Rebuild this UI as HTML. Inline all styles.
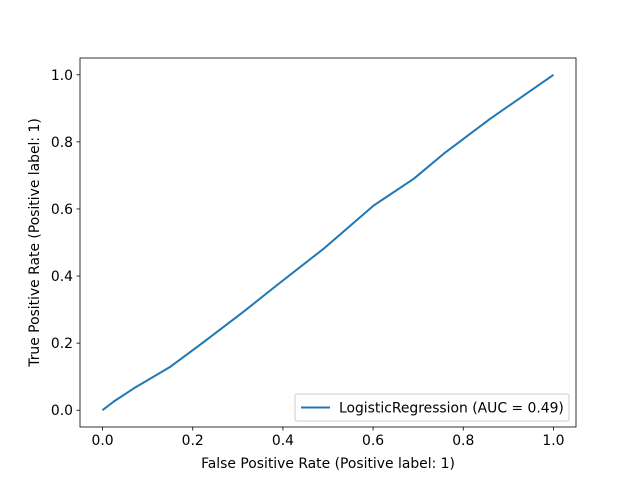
<!DOCTYPE html>
<html><head><meta charset="utf-8"><style>body{margin:0;background:#fff}svg{display:block;font-family:"DejaVu Sans","Liberation Sans",sans-serif}</style></head>
<body>
<svg id="chart" width="640" height="480">
<rect x="0" y="0" width="640" height="480" fill="#fff"/>
<g id="plot"></g>
</svg>
<script>
const fprValues=[0,0.025,0.069,0.151,0.225,0.313,0.387,0.491,0.602,0.69,0.757,0.86,1];
const tprValues=[0,0.026,0.065,0.13,0.204,0.294,0.373,0.482,0.611,0.69,0.765,0.869,1];
const xTicks=[0,0.2,0.4,0.6,0.8,1.0];
const yTicks=[0,0.2,0.4,0.6,0.8,1.0];
const legendLabel="LogisticRegression (AUC = 0.49)";
const L=80,R=576,T=58,B=427;
const x=v=>L+(v+0.05)/1.1*(R-L);
const y=v=>B-(v+0.05)/1.1*(B-T);
const NS="http://www.w3.org/2000/svg";
const g=document.getElementById('plot');
function mk(t,a,txt){const e=document.createElementNS(NS,t);for(const k in a)e.setAttribute(k,a[k]);if(txt!==undefined)e.textContent=txt;g.appendChild(e);return e;}
let d=fprValues.map((v,i)=>(i?'L':'M')+x(v).toFixed(1)+' '+y(tprValues[i]).toFixed(1)).join(' ');
const line=mk('path',{d:d,fill:'none',stroke:'#1f77b4','stroke-width':2,'stroke-linejoin':'round'});


const frame=mk('rect',{x:L,y:T,width:R-L,height:B-T,fill:'none',stroke:'#000','stroke-width':0.8});


xTicks.forEach(v=>{
  mk('line',{x1:x(v),x2:x(v),y1:B,y2:B+3.5,stroke:'#000','stroke-width':0.8});
  const t=mk('text',{x:x(v),y:B+18,'text-anchor':'middle','font-size':13.9,fill:'#000'},v.toFixed(1));
  
  
});
yTicks.forEach(v=>{
  mk('line',{x1:L,x2:L-3.5,y1:y(v),y2:y(v),stroke:'#000','stroke-width':0.8});
  const t=mk('text',{x:L-7,y:y(v)+5,'text-anchor':'end','font-size':13.9,fill:'#000'},v.toFixed(1));
  
  
});
const xt=mk('text',{x:(L+R)/2,y:468,'text-anchor':'middle','font-size':13.9,fill:'#000'},'False Positive Rate (Positive label: 1)');


const yt=mk('text',{x:0,y:0,transform:`translate(39,${(T+B)/2}) rotate(-90)`,'text-anchor':'middle','font-size':13.9,fill:'#000'},'True Positive Rate (Positive label: 1)');


const lb=mk('rect',{x:295,y:394,width:274,height:27,rx:2,fill:'#fff','fill-opacity':0.8,stroke:'#ccc','stroke-width':1});


mk('line',{x1:301,x2:330,y1:407.5,y2:407.5,stroke:'#1f77b4','stroke-width':2});
const lt=mk('text',{x:339,y:412.5,'font-size':13.9,fill:'#000'},legendLabel);


</script>
</body></html>
